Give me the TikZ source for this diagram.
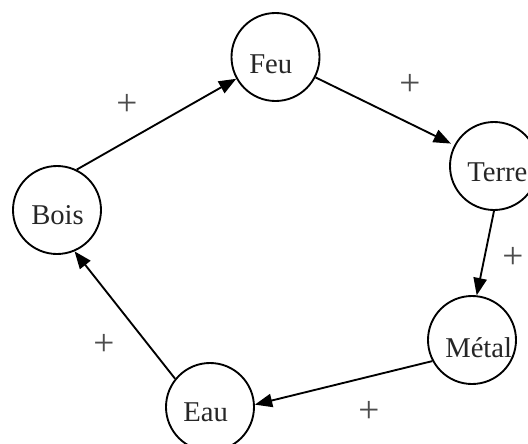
\documentclass[tikz,border=0pt]{standalone}
\usepackage{fontspec}
\setmainfont{Liberation Serif}
\usetikzlibrary{arrows.meta}
\begin{document}
\begin{tikzpicture}[x=0.75pt,y=-0.75pt,
  elem/.style={circle,draw,line width=1.4pt,minimum size=66pt,inner sep=0pt},
  elemlabel/.style={inner sep=0pt,anchor=base west,font=\fontsize{21.5}{25}\selectfont,text=black!85},
  sign/.style={inner sep=0pt,font=\fontsize{28}{32}\selectfont,text=black!70},
  flow/.style={line width=1.4pt,-{Triangle[length=13pt,width=10pt]}}]
\useasboundingbox (0,0) rectangle (528,443);
\clip (0,0) rectangle (528,443);
% the five elements
\node[elem] (feu) at (275.5,57) {};
\node[elem] (terre) at (494,166) {};
\node[elem] (metal) at (472,340) {};
\node[elem] (eau) at (210,407) {};
\node[elem] (bois) at (57,210) {};
% their names
\node[elemlabel] (feu-t) at (249,73) {Feu};
\node[elemlabel] (terre-t) at (467,181) {Terre};
\node[elemlabel] (metal-t) at (445,357) {Métal};
\node[elemlabel] (eau-t) at (183,421) {Eau};
\node[elemlabel] (bois-t) at (31,224) {Bois};
% generating cycle
\draw[flow] (bois.64) -- (feu.209);
\draw[flow] (feu.-27) -- ([shift={(-3,-2)}]terre.153);
\draw[flow] (terre.-90) -- (metal.84);
\draw[flow] (metal.208) -- (eau.3);
\draw[flow] (eau.141) -- (bois.-67);
% signs
\node[sign] (s1) at (127,105) {+};
\node[sign] (s2) at (410,85) {+};
\node[sign] (s3) at (513,258) {+};
\node[sign] (s4) at (369,412) {+};
\node[sign] (s5) at (104,345) {+};
\end{tikzpicture}
\end{document}
